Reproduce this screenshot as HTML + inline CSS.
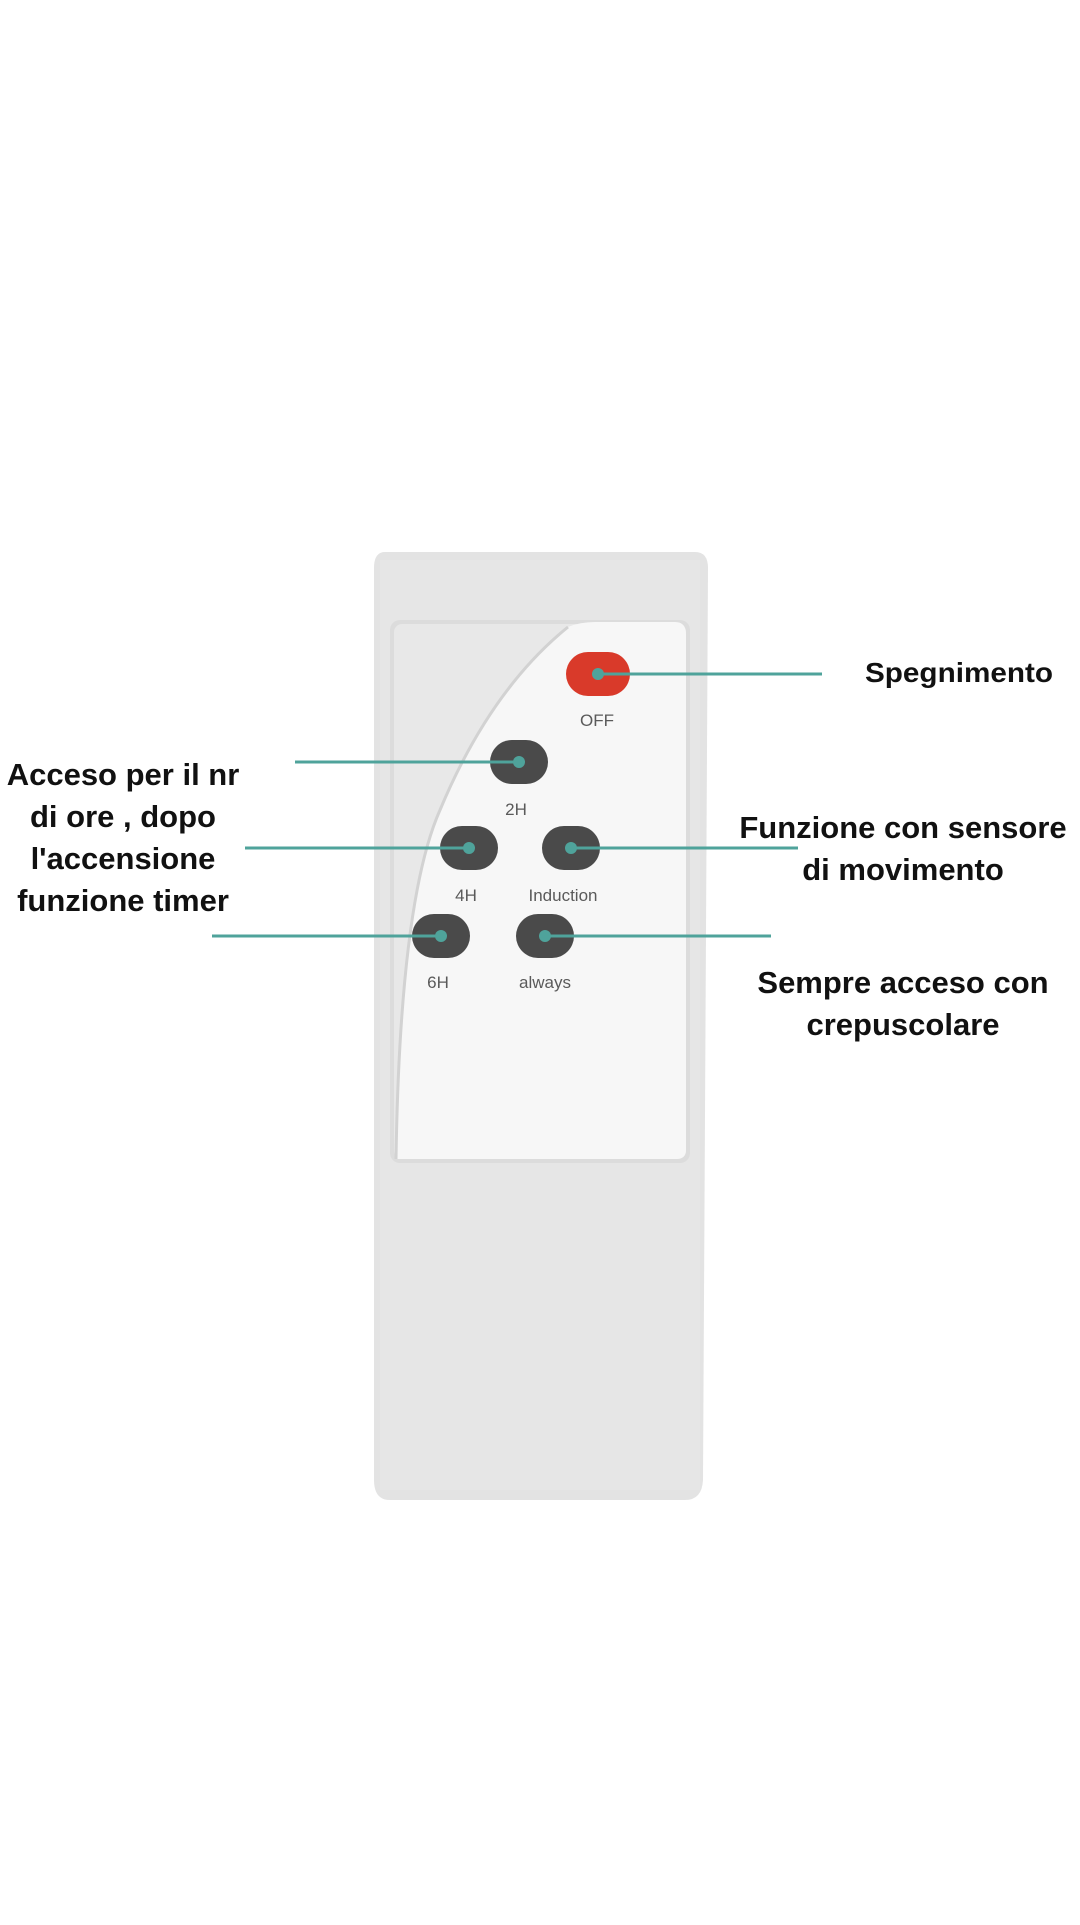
<!DOCTYPE html>
<html><head><meta charset="utf-8"><style>
html,body{margin:0;padding:0;background:#fff;}
.t{font-family:"Liberation Sans",sans-serif;font-weight:bold;fill:#111;}
.l{font-family:"Liberation Sans",sans-serif;fill:#5a5a5a;font-size:17px;}
</style></head><body>
<svg width="1080" height="1920" viewBox="0 0 1080 1920" xmlns="http://www.w3.org/2000/svg">
<rect width="1080" height="1920" fill="#fff"/>
<path d="M385 552 H695 Q708 552 708 568 L703 1480 Q702 1500 685 1500 H390 Q374 1500 374 1480 L374 568 Q374 552 385 552 Z" fill="#e3e3e3"/>
<path d="M380 560 H700 L700 1490 H380 Z" fill="#e6e6e6"/>
<rect x="390" y="620" width="300" height="543" rx="10" fill="#dcdcdc"/>
<rect x="394" y="624" width="292" height="535" rx="8" fill="#e8e8e8"/>
<path d="M568 627 Q580 622 595 622 H675 Q686 622 686 634 V1150 Q686 1159 676 1159 H396 Q400 900 440 810 Q490 690 568 627 Z" fill="#f7f7f7"/>
<path d="M568 627 Q490 690 440 810 Q400 900 396 1159" fill="none" stroke="#d2d2d2" stroke-width="3"/>
<g>
<rect x="566" y="652" width="64" height="44" rx="22" fill="#d93a2a"/>
<rect x="490" y="740" width="58" height="44" rx="22" fill="#4a4a4a"/>
<rect x="440" y="826" width="58" height="44" rx="22" fill="#4a4a4a"/>
<rect x="542" y="826" width="58" height="44" rx="22" fill="#4a4a4a"/>
<rect x="412" y="914" width="58" height="44" rx="22" fill="#4a4a4a"/>
<rect x="516" y="914" width="58" height="44" rx="22" fill="#4a4a4a"/>
</g>
<g stroke="#4fa39b" stroke-width="3">
<line x1="598" y1="674" x2="822" y2="674"/>
<line x1="295" y1="762" x2="519" y2="762"/>
<line x1="245" y1="848" x2="469" y2="848"/>
<line x1="212" y1="936" x2="441" y2="936"/>
<line x1="571" y1="848" x2="798" y2="848"/>
<line x1="545" y1="936" x2="771" y2="936"/>
</g>
<g fill="#4fa39b">
<circle cx="598" cy="674" r="6"/><circle cx="519" cy="762" r="6"/><circle cx="469" cy="848" r="6"/>
<circle cx="571" cy="848" r="6"/><circle cx="441" cy="936" r="6"/><circle cx="545" cy="936" r="6"/>
</g>
<g class="l" text-anchor="middle">
<text x="597" y="726">OFF</text>
<text x="516" y="815">2H</text>
<text x="466" y="901">4H</text>
<text x="563" y="901">Induction</text>
<text x="438" y="988">6H</text>
<text x="545" y="988">always</text>
</g>
<g class="t" font-size="28">
<text x="865" y="682" textLength="188" lengthAdjust="spacingAndGlyphs">Spegnimento</text>
</g>
<g class="t" font-size="31" text-anchor="middle">
<text x="123" y="785">Acceso per il nr</text>
<text x="123" y="827">di ore , dopo</text>
<text x="123" y="869">l'accensione</text>
<text x="123" y="911">funzione timer</text>
<text x="903" y="838">Funzione con sensore</text>
<text x="903" y="880">di movimento</text>
<text x="903" y="993">Sempre acceso con</text>
<text x="903" y="1035">crepuscolare</text>
</g>
</svg>
</body></html>
